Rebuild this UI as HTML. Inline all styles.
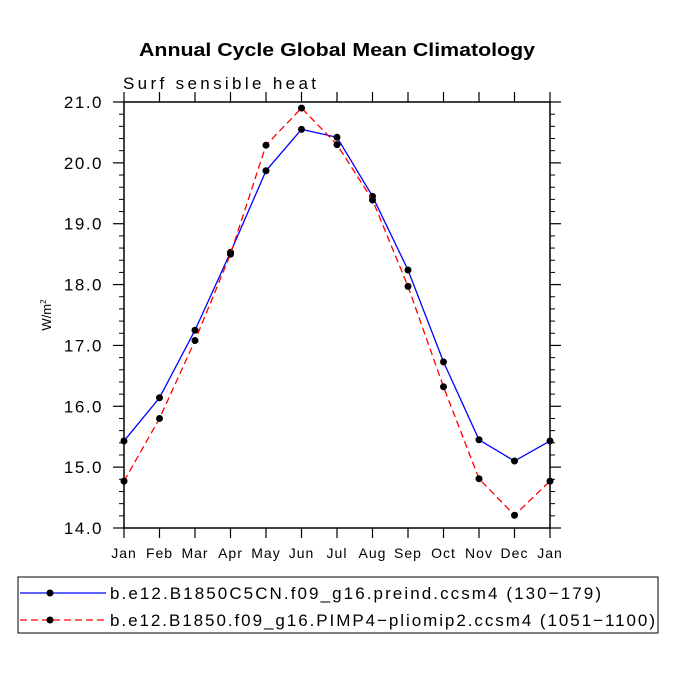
<!DOCTYPE html>
<html><head><meta charset="utf-8"><style>
body{margin:0;background:#fff}
svg text{font-family:"Liberation Sans",sans-serif}
</style></head><body>
<svg id="c" width="675" height="675" viewBox="0 0 675 675" xmlns="http://www.w3.org/2000/svg">
<rect width="675" height="675" fill="#fff"/>
<text x="139" y="56" font-size="18" font-weight="bold" textLength="396" lengthAdjust="spacingAndGlyphs">Annual Cycle Global Mean Climatology</text>
<text x="123" y="89" font-size="17" textLength="193" lengthAdjust="spacing">Surf sensible heat</text>
<text transform="translate(51,315) rotate(-90)" text-anchor="middle" font-size="13">W/m<tspan font-size="8" dy="-5">2</tspan></text>
<g id="axes"></g>
<g id="series"></g>
<rect x="18" y="577" width="640" height="56" fill="none" stroke="#000" stroke-width="1"/>
<g>
<line x1="20" y1="593" x2="106" y2="593" stroke="#0000ff" stroke-width="1.3"/>
<circle cx="50" cy="593" r="3.5" fill="#000"/>
<text x="110" y="599" font-size="17" textLength="491" lengthAdjust="spacing">b.e12.B1850C5CN.f09_g16.preind.ccsm4 (130−179)</text>
</g>
<g>
<line x1="20" y1="620" x2="106" y2="620" stroke="#ff0000" stroke-width="1.3" stroke-dasharray="7,4"/>
<circle cx="50" cy="620" r="3.5" fill="#000"/>
<text x="110" y="626" font-size="17" textLength="545" lengthAdjust="spacing">b.e12.B1850.f09_g16.PIMP4−pliomip2.ccsm4 (1051−1100)</text>
</g>
</svg>
<script>
const months=["Jan","Feb","Mar","Apr","May","Jun","Jul","Aug","Sep","Oct","Nov","Dec","Jan"];
const preind=[15.43,16.14,17.25,18.53,19.87,20.55,20.42,19.45,18.24,16.73,15.45,15.10,15.43];
const pliomip=[14.77,15.80,17.08,18.50,20.29,20.90,20.30,19.39,17.97,16.32,14.81,14.21,14.77];
const yTicks=[14,15,16,17,18,19,20,21];
const yTickLabels=["14.0","15.0","16.0","17.0","18.0","19.0","20.0","21.0"];
const NS="http://www.w3.org/2000/svg";
const L=124,R=550,T=102,B=528,yMin=14,yMax=21;
const xs=i=>L+i*(R-L)/(months.length-1);
const ys=v=>B-(v-yMin)*(B-T)/(yMax-yMin);
function mk(tag,attrs,parent){const e=document.createElementNS(NS,tag);for(const k in attrs)e.setAttribute(k,attrs[k]);parent.appendChild(e);return e;}
const ax=document.getElementById('axes');
const fr=mk('rect',{x:L,y:T,width:R-L,height:B-T,fill:'none',stroke:'#000','stroke-width':1.5},ax);


months.forEach((m,i)=>{
 const x=xs(i);
 mk('line',{x1:x,y1:B,x2:x,y2:B+10,stroke:'#000','stroke-width':1.2},ax);
 mk('line',{x1:x,y1:T,x2:x,y2:T-10,stroke:'#000','stroke-width':1.2},ax);
 const t=mk('text',{x:x,y:558,'text-anchor':'middle','font-size':14,'letter-spacing':1},ax);
 t.textContent=m;
 
 
});
yTicks.forEach((v,i)=>{
 const y=ys(v);
 mk('line',{x1:L,y1:y,x2:L-11,y2:y,stroke:'#000','stroke-width':1.2},ax);
 mk('line',{x1:R,y1:y,x2:R+11,y2:y,stroke:'#000','stroke-width':1.2},ax);
 if(i<yTicks.length-1){for(let k=1;k<5;k++){const ym=ys(v+k*0.2);
  mk('line',{x1:L,y1:ym,x2:L-5,y2:ym,stroke:'#000','stroke-width':1},ax);
  mk('line',{x1:R,y1:ym,x2:R+5,y2:ym,stroke:'#000','stroke-width':1},ax);}}
 const t=mk('text',{x:103,y:y+6,'text-anchor':'end','font-size':17,'letter-spacing':1.5},ax);
 t.textContent=yTickLabels[i];
 
 
});
const sg=document.getElementById('series');
function drawSeries(vals,color,dash,name){
 const g=mk('g',{},sg);
 
 
 const p=mk('polyline',{points:vals.map((v,i)=>xs(i)+','+ys(v)).join(' '),fill:'none',stroke:color,'stroke-width':1.3},g);
 if(dash)p.setAttribute('stroke-dasharray',dash);
 vals.forEach((v,i)=>{const c=mk('circle',{cx:xs(i),cy:ys(v),r:3.5,fill:'#000'},g);
  
  });
}
drawSeries(preind,'#0000ff',null,'series-preind');
drawSeries(pliomip,'#ff0000','7,4','series-pliomip2');
</script>
</body></html>
